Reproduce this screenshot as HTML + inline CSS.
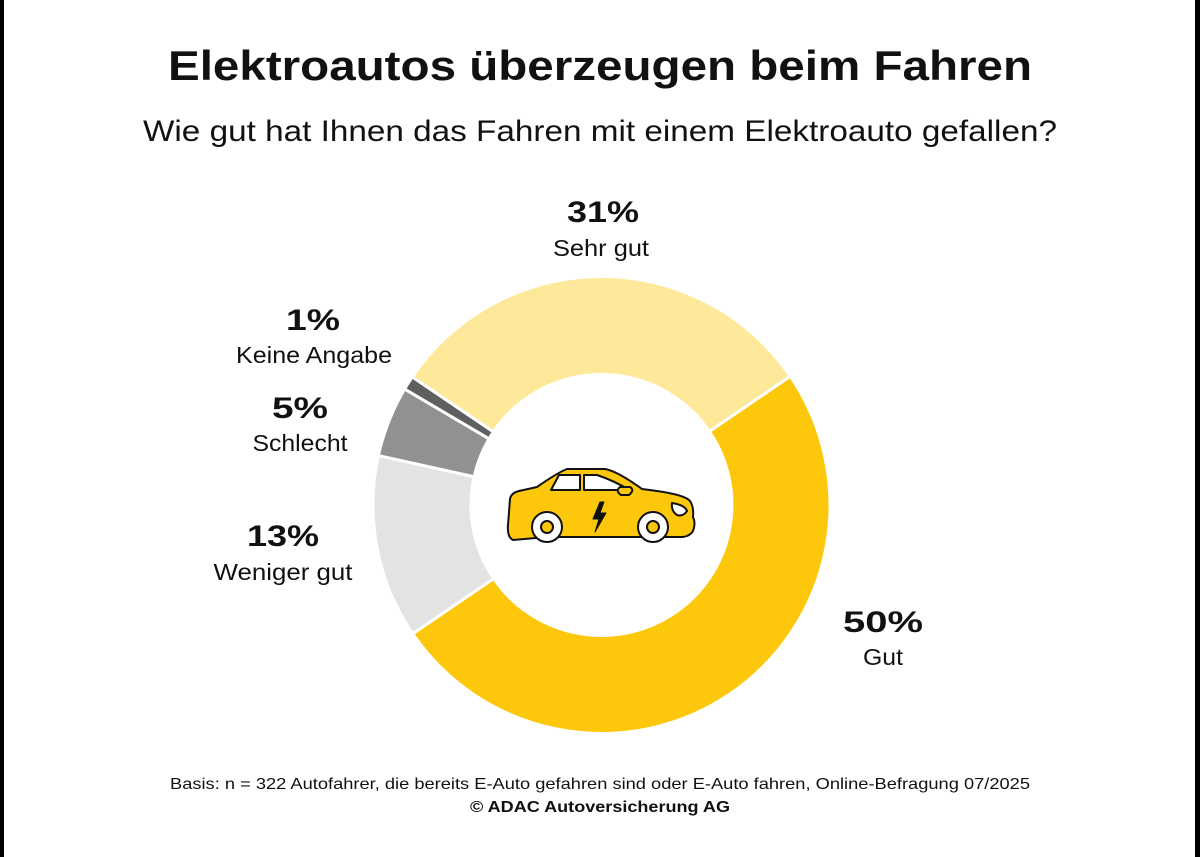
<!DOCTYPE html>
<html><head><meta charset="utf-8"><style>
html,body{margin:0;padding:0;background:#fff}
body{width:1200px;height:857px;position:relative;overflow:hidden;font-family:"Liberation Sans","DejaVu Sans",sans-serif}
.bl{position:absolute;top:0;bottom:0;width:4px;background:#000}
</style></head><body>
<div class="bl" style="left:0"></div><div class="bl" style="right:0;width:5px"></div>
<svg width="1200" height="857" style="position:absolute;left:0;top:0" font-family="Liberation Sans, DejaVu Sans, sans-serif">
<text x="600" y="80" text-anchor="middle" font-size="42" font-weight="bold" fill="#111" textLength="864" lengthAdjust="spacingAndGlyphs">Elektroautos überzeugen beim Fahren</text>
<text x="600" y="141" text-anchor="middle" font-size="30" fill="#111" textLength="914" lengthAdjust="spacingAndGlyphs">Wie gut hat Ihnen das Fahren mit einem Elektroauto gefallen?</text>
<g id="donut"></g>
<g text-anchor="middle" fill="#111" lengthAdjust="spacingAndGlyphs">
<text x="603" y="222" font-size="30" font-weight="bold" textLength="72" lengthAdjust="spacingAndGlyphs">31%</text>
<text x="601" y="256" font-size="23" textLength="96" lengthAdjust="spacingAndGlyphs">Sehr gut</text>
<text x="313" y="330" font-size="30" font-weight="bold" textLength="54" lengthAdjust="spacingAndGlyphs">1%</text>
<text x="314" y="363" font-size="23" textLength="156" lengthAdjust="spacingAndGlyphs">Keine Angabe</text>
<text x="300" y="418" font-size="30" font-weight="bold" textLength="56" lengthAdjust="spacingAndGlyphs">5%</text>
<text x="300" y="451" font-size="23" textLength="95" lengthAdjust="spacingAndGlyphs">Schlecht</text>
<text x="283" y="546" font-size="30" font-weight="bold" textLength="72" lengthAdjust="spacingAndGlyphs">13%</text>
<text x="283" y="580" font-size="23" textLength="139" lengthAdjust="spacingAndGlyphs">Weniger gut</text>
<text x="883" y="632" font-size="30" font-weight="bold" textLength="80" lengthAdjust="spacingAndGlyphs">50%</text>
<text x="883" y="665" font-size="23" textLength="40" lengthAdjust="spacingAndGlyphs">Gut</text>
<text x="600" y="789" font-size="16" textLength="860" lengthAdjust="spacingAndGlyphs">Basis: n = 322 Autofahrer, die bereits E-Auto gefahren sind oder E-Auto fahren, Online-Befragung 07/2025</text>
<text x="600" y="812" font-size="16" font-weight="bold" textLength="260" lengthAdjust="spacingAndGlyphs">© ADAC Autoversicherung AG</text>
</g>
<g transform="translate(507,467)" stroke="#111" stroke-width="2" stroke-linejoin="round">
<path d="M6 73 Q0 70 1 58 L3 32 Q4 26 12 24 L30 20 Q50 6 60 2 L98 2 Q110 4 135 22 L150 24 Q178 28 183 34 Q187 40 186 50 Q189 56 186 64 Q183 69 176 70 L120 70 L40 70 Z" fill="#fdc70c"/>
<path d="M44 23 L52 8 L73 8 L73 23 Z" fill="#fff"/>
<path d="M77 8 L90 8 Q108 14 122 23 L77 23 Z" fill="#fff"/>
<path d="M113 20 L123 20 Q128 23 122 28 L114 28 Q108 24 113 20 Z" fill="#fdc70c"/>
<path d="M165 36 Q178 38 180 44 Q176 50 170 48 Q164 44 165 36 Z" fill="#fff"/>
<path d="M93 35 L86 52 L92 52 L88 65 L99 46 L93 46 L97 35 Z" fill="#111" stroke-width="1"/>
<circle cx="40" cy="60" r="15" fill="#fff"/><circle cx="40" cy="60" r="6" fill="#fdc70c"/>
<circle cx="146" cy="60" r="15" fill="#fff"/><circle cx="146" cy="60" r="6" fill="#fdc70c"/>
</g>
</svg>
<script>
(function(){
var cx=601.5,cy=505,R=228.5,r=130.5,g=document.getElementById('donut');
var segs=[[50,'#fdc70c'],[13,'#e3e3e3'],[5,'#919191'],[1,'#5f5f5f'],[31,'#fee99b']];
var a=55.7;
function pt(ang,rad){var t=(ang-90)*Math.PI/180;return [cx+rad*Math.cos(t),cy+rad*Math.sin(t)];}
segs.forEach(function(s){
var b=a+s[0]*3.6;var p1=pt(a,R),p2=pt(b,R),p3=pt(b,r),p4=pt(a,r);var lg=(b-a)>180?1:0;
var d='M'+p1+' A'+R+' '+R+' 0 '+lg+' 1 '+p2+' L'+p3+' A'+r+' '+r+' 0 '+lg+' 0 '+p4+' Z';
var e=document.createElementNS('http://www.w3.org/2000/svg','path');
e.setAttribute('d',d);e.setAttribute('fill',s[1]);e.setAttribute('stroke','#fff');e.setAttribute('stroke-width','3');
g.appendChild(e);a=b;});
})();
</script>
</body></html>
